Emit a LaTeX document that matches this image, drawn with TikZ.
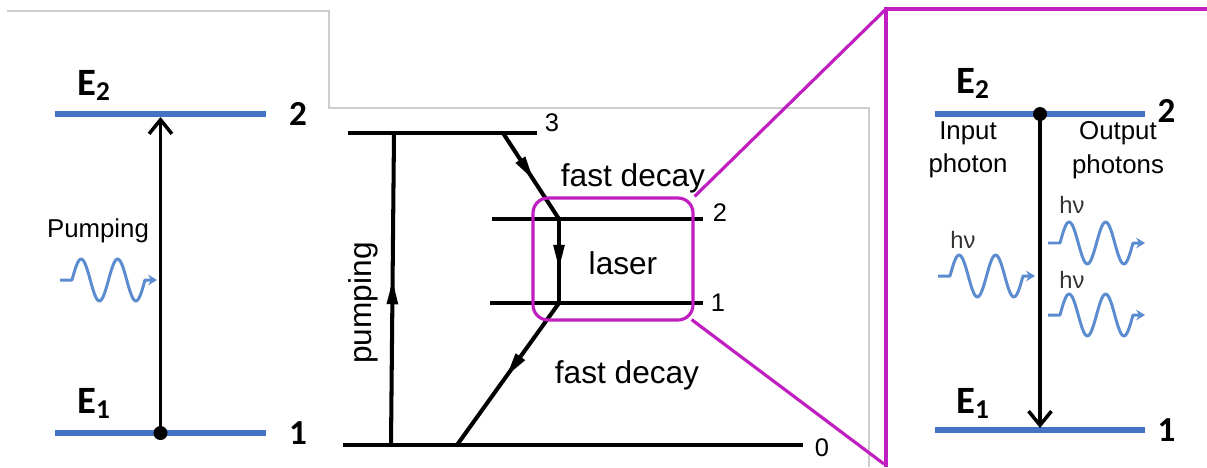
\documentclass[tikz,border=0pt]{standalone}
\usepackage{fontspec}
\setmainfont{Liberation Sans}
\newfontfamily\calfont{Carlito}
\usetikzlibrary{positioning, arrows.meta, decorations.markings, calc}
\definecolor{levelblue}{RGB}{68,114,196}
\definecolor{waveblue}{RGB}{91,140,207}
\definecolor{zoommag}{RGB}{192,30,192}
\definecolor{framegray}{RGB}{205,205,205}
\newcommand{\Elev}[1]{{\calfont\bfseries\fontsize{22}{22}\selectfont E\raisebox{-0.3ex}{\fontsize{15.5}{15.5}\selectfont #1}}}

\begin{document}
\begin{tikzpicture}[x=0.02cm, y=-0.02cm, >=Latex,
    level/.style={levelblue, line width=3.6pt},
    lvlnum/.style={font=\calfont\bfseries\fontsize{20}{20}\selectfont, inner sep=0pt},
    elabel/.style={inner sep=0pt, anchor=base west},
    bigarrow/.style={line width=2pt, -{Straight Barb[length=8pt, width=13pt, line width=2pt]}},
    txt/.style={font=\fontsize{14.7}{19}\selectfont, align=center, inner sep=0pt},
    hnu/.style={font=\fontsize{13.5}{14}\selectfont, text=black!80, inner sep=0pt},
    oldline/.style={line width=2.3pt},
    oldtxt/.style={font=\fontsize{18}{20}\selectfont, inner sep=0pt},
    oldnum/.style={font=\fontsize{14.5}{14}\selectfont, inner sep=0pt},
    midarrow/.style={oldline, decoration={markings, mark=at position #1 with {\arrow{Triangle[length=14pt, width=6pt]}}}, postaction={decorate}},
    zoombox/.style={draw=zoommag, line width=1.8pt, rounded corners=0.3cm, minimum width=3.2cm, minimum height=2.44cm, inner sep=0pt},
    magline/.style={zoommag, line width=1.8pt},
    wavy/.style={waveblue, line width=1.7pt, line join=round, -{Stealth[length=5pt, width=6pt]}},
    photonwave/.pic={\draw[wavy] (0,0) -- (12,0) -- plot[domain=0:73, samples=60, smooth] ({12+\x},{-21*sin(9.863*\x)}) -- (97,0);}
  ]
  \useasboundingbox (0,0) rectangle (1207,467);

  \draw[framegray, line width=0.6pt] (7,11) -- (329,11) -- (329,108) -- (869,108) -- (869,467);

  % left: two-level pumping
  \coordinate (la2) at (55,114);
  \coordinate (lb2) at (266,114);
  \coordinate (la1) at (55,433);
  \coordinate (lb1) at (266,433);
  \draw[level] (la2) -- (lb2);
  \draw[level] (la1) -- (lb1);
  \node[lvlnum, right=13pt of lb2] (lnum2) {2};
  \node[lvlnum, right=13pt of lb1] (lnum1) {1};
  \node[elabel] (le2) at (77,95) {\Elev{2}};
  \node[elabel] (le1) at (77,413) {\Elev{1}};
  \coordinate (lbot) at ($(la1)!0.5!(lb1)$);
  \coordinate (ltop) at ($(la2)!0.5!(lb2)+(0,3)$);
  \fill (lbot) circle (7);
  \draw[bigarrow] (lbot) -- (ltop);
  \node[txt] (pumptxt) at (98,231) {Pumping};
  \pic (pumpwave) at (60,280) {photonwave};

  % middle: four-level scheme
  \coordinate (m3a) at (348,133);
  \coordinate (m3b) at (537,133);
  \coordinate (m2a) at (492,219);
  \coordinate (m2b) at (703,219);
  \coordinate (m1a) at (490,303);
  \coordinate (m1b) at (703,303);
  \coordinate (m0a) at (343,445);
  \coordinate (m0b) at (803,445);
  \draw[oldline] (m3a) -- (m3b);
  \draw[oldline] (m2a) -- (m2b);
  \draw[oldline] (m1a) -- (m1b);
  \draw[oldline] (m0a) -- (m0b);
  \node[oldnum] (mnum3) at (552,123) {3};
  \node[oldnum] (mnum2) at (720,213) {2};
  \node[oldnum] (mnum1) at (718,303) {1};
  \node[oldnum] (mnum0) at (822,448) {0};
  \coordinate (pb) at (391,445);
  \coordinate (pt) at (394,133);
  \coordinate (d3) at (503,133);
  \coordinate (d2) at (559,219);
  \coordinate (d1) at (559,303);
  \coordinate (d0) at (457,445);
  \draw[midarrow=0.53] (pb) -- (pt);
  \draw[midarrow=0.55] (d3) -- (d2);
  \draw[midarrow=0.6] (d2) -- (d1);
  \draw[midarrow=0.52] (d1) -- (d0);
  \node[oldtxt, rotate=90] (mpump) at (363,303) {pumping};
  \node[oldtxt] (fast1) at (633,178) {fast decay};
  \node[oldtxt] (laser) at (623,263) {laser};
  \node[oldtxt] (fast2) at (627,375) {fast decay};

  \node[zoombox] (zoom) at (613,259) {};
  \coordinate (frtl) at (886,9);
  \coordinate (frbl) at (886,467);
  \coordinate (frtr) at (1207,9);
  \coordinate (frlow) at (884,464);
  \draw[magline] (zoom.north east) -- (frtl);
  \draw[magline] ($(zoom.south east)+(-3,-2)$) -- (frlow);
  \draw[zoommag, line width=2.8pt] (frbl) -- (frtl) -- (frtr);

  % right: stimulated emission
  \coordinate (ra2) at (935,114);
  \coordinate (rb2) at (1145,114);
  \coordinate (ra1) at (935,430);
  \coordinate (rb1) at (1145,430);
  \draw[level] (ra2) -- (rb2);
  \draw[level] (ra1) -- (rb1);
  \node[lvlnum, right=7pt of rb2, yshift=2pt] (rnum2) {2};
  \node[lvlnum, right=7pt of rb1] (rnum1) {1};
  \node[elabel] (re2) at (956,93) {\Elev{2}};
  \node[elabel] (re1) at (956,413) {\Elev{1}};
  \coordinate (rtop) at ($(ra2)!0.5!(rb2)$);
  \coordinate (rbot) at ($(ra1)!0.5!(rb1)+(0,-2)$);
  \fill (rtop) circle (7);
  \draw[bigarrow] (rtop) -- (rbot);
  \node[txt] (inph) at (968,150) {Input\\photon};
  \node[txt] (outph) at (1118,150) {Output\\photons};
  \node[hnu] (hnuin) at (963,240) {hν};
  \node[hnu] (hnuup) at (1072,205) {hν};
  \node[hnu] (hnulow) at (1072,280) {hν};
  \pic (inwave) at (938,276) {photonwave};
  \pic (outwaveup) at (1048,243) {photonwave};
  \pic (outwavelow) at (1048,315) {photonwave};
\end{tikzpicture}
\end{document}
